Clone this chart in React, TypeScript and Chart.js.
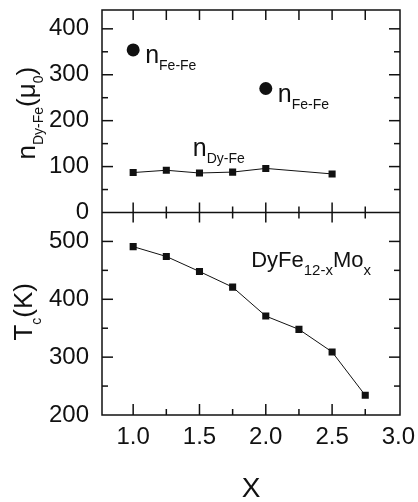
import React, { useEffect, useRef } from "react";
import { Chart, registerables } from "chart.js";

Chart.register(...registerables);

// ---------- data ----------
const nDyFeX = [1.0, 1.25, 1.5, 1.75, 2.0, 2.5];
const nDyFeY = [87, 92, 86, 88, 96, 84];
const nFeFeX = [1.0, 2.0];
const nFeFeY = [354, 270];
const tcX = [1.0, 1.25, 1.5, 1.75, 2.0, 2.25, 2.5, 2.75];
const tcY = [491, 474, 448, 421, 371, 348, 309, 234];
const xTicks = [1.0, 1.5, 2.0, 2.5, 3.0];
const nTicks = [0, 100, 200, 300, 400];
const tcTicks = [200, 300, 400, 500];

const FONT = '"Liberation Sans", Arial, sans-serif';
const INK = "#111";

type Part = [string, number, number];

function drawRich(ctx: CanvasRenderingContext2D, x: number, y: number, parts: Part[], center = false) {
  let total = 0;
  for (const p of parts) {
    ctx.font = `${p[1]}px ${FONT}`;
    total += ctx.measureText(p[0]).width;
  }
  let cx = center ? x - total / 2 : x;
  for (const p of parts) {
    ctx.font = `${p[1]}px ${FONT}`;
    ctx.fillText(p[0], cx, y + p[2]);
    cx += ctx.measureText(p[0]).width;
  }
}

const framePlugin = {
  id: "frameTicks",
  afterDraw(chart: any) {
    const { ctx, chartArea: a, scales } = chart;
    const sx = scales.x, sN = scales.yN, sT = scales.yT;
    const mid = sN.bottom;
    ctx.save();
    ctx.strokeStyle = INK;
    ctx.lineWidth = 1.5;
    const seg = (x1: number, y1: number, x2: number, y2: number) => {
      ctx.beginPath();
      ctx.moveTo(x1, y1);
      ctx.lineTo(x2, y2);
      ctx.stroke();
    };
    ctx.strokeRect(a.left, a.top, a.right - a.left, a.bottom - a.top);
    seg(a.left, mid, a.right, mid);

    const xMaj = sx.ticks.map((t: any) => t.value);
    const xMin = xMaj.slice(0, -1).map((v: number, i: number) => (v + xMaj[i + 1]) / 2);
    xMaj.forEach((v: number) => {
      const p = sx.getPixelForValue(v);
      if (p > a.right - 2) return;
      seg(p, a.bottom, p, a.bottom - 11);
      seg(p, mid - 10, p, mid + 10);
      seg(p, a.top, p, a.top + 10);
    });
    xMin.forEach((v: number) => {
      const p = sx.getPixelForValue(v);
      seg(p, a.bottom, p, a.bottom - 6);
      seg(p, mid - 6, p, mid + 6);
      seg(p, a.top, p, a.top + 10);
    });

    [sN, sT].forEach((s: any) => {
      const maj = s.ticks.map((t: any) => t.value);
      const step = maj[1] - maj[0];
      maj.forEach((v: number) => {
        const p = s.getPixelForValue(v);
        if (p >= s.bottom - 1 || p <= s.top + 1) return;
        seg(a.left, p, a.left + 11, p);
        seg(a.right, p, a.right - 11, p);
      });
      const minors = maj.slice(0, -1).map((v: number, i: number) => (v + maj[i + 1]) / 2);
      minors.push(maj[maj.length - 1] + step / 2);
      minors.forEach((v: number) => {
        if (v >= s.max) return;
        const p = s.getPixelForValue(v);
        if (p <= s.top + 1) return;
        seg(a.left, p, a.left + 6, p);
        seg(a.right, p, a.right - 6, p);
      });
    });
    ctx.restore();
  },
};

const textPlugin = {
  id: "richText",
  afterDraw(chart: any) {
    const { ctx, scales } = chart;
    const sx = scales.x, sN = scales.yN, sT = scales.yT;
    ctx.save();
    ctx.fillStyle = INK;
    ctx.textBaseline = "alphabetic";
    ctx.textAlign = "left";

    // point labels n_Fe-Fe
    nFeFeX.forEach((xv, i) => {
      const px = sx.getPixelForValue(xv) + 12;
      const py = sN.getPixelForValue(nFeFeY[i]) + 13;
      drawRich(ctx, px, py, [["n", 25, 0], ["Fe-Fe", 14, 7]]);
    });
    // n_Dy-Fe label
    drawRich(ctx, sx.getPixelForValue(1.45), sN.getPixelForValue(122), [["n", 25, 0], ["Dy-Fe", 14, 7]]);
    // compound label
    drawRich(ctx, sx.getPixelForValue(1.89), sT.getPixelForValue(456), [
      ["DyFe", 22, 0],
      ["12-x", 15, 8],
      ["Mo", 22, 0],
      ["x", 15, 8],
    ]);

    // rotated y titles
    const rot = (bx: number, cy: number, parts: Part[]) => {
      ctx.save();
      ctx.translate(bx, cy);
      ctx.rotate(-Math.PI / 2);
      drawRich(ctx, 0, 0, parts, true);
      ctx.restore();
    };
    rot(35, (sN.top + sN.bottom) / 2 + 2, [
      ["n", 26, 0],
      ["Dy-Fe", 14, 8],
      ["(", 26, 0],
      ["\u03bc", 26, 0],
      ["0", 14, 8],
      [")", 26, 0],
    ]);
    rot(32, (sT.top + sT.bottom) / 2 - 2, [
      ["T", 26, 0],
      ["c", 14, 9],
      ["(K)", 26, 0],
    ]);
    ctx.restore();
  },
};

export default function App() {
  const ref = useRef<HTMLCanvasElement | null>(null);

  useEffect(() => {
    if (!ref.current) return;
    const tickFont = { family: FONT, size: 24 };
    const yFit = (s: any) => {
      s.width = 102;
      s.paddingTop = 0;
      s.paddingBottom = 0;
      s.paddingLeft = 0;
      s.paddingRight = 0;
    };
    const chart = new Chart(ref.current, {
      type: "line",
      data: {
        datasets: [
          {
            label: "Tc",
            yAxisID: "yT",
            data: tcX.map((x, i) => ({ x, y: tcY[i] })),
            borderColor: INK,
            borderWidth: 1,
            pointStyle: "rect",
            pointRadius: 5,
            pointBackgroundColor: INK,
            pointBorderWidth: 0,
            tension: 0,
          },
          {
            label: "nDyFe",
            yAxisID: "yN",
            data: nDyFeX.map((x, i) => ({ x, y: nDyFeY[i] })),
            borderColor: INK,
            borderWidth: 1,
            pointStyle: "rect",
            pointRadius: 5,
            pointBackgroundColor: INK,
            pointBorderWidth: 0,
            tension: 0,
          },
          {
            label: "nFeFe",
            yAxisID: "yN",
            data: nFeFeX.map((x, i) => ({ x, y: nFeFeY[i] })),
            showLine: false,
            borderColor: INK,
            pointStyle: "circle",
            pointRadius: 6.5,
            pointBackgroundColor: INK,
            pointBorderWidth: 0,
          },
        ],
      },
      options: {
        responsive: false,
        animation: false,
        devicePixelRatio: 1,
        layout: { padding: { top: 10, right: 18, left: 0, bottom: 0 } },
        plugins: { legend: { display: false }, tooltip: { enabled: false } },
        scales: {
          x: {
            type: "linear",
            position: "bottom",
            min: 0.765,
            max: 3.012,
            afterBuildTicks: (s: any) => {
              s.ticks = xTicks.map((v) => ({ value: v }));
            },
            afterFit: (s: any) => {
              s.height = 87;
              s.paddingLeft = 0;
              s.paddingRight = 0;
            },
            grid: { display: false, drawTicks: false },
            border: { display: false },
            ticks: {
              padding: 8,
              font: tickFont,
              color: INK,
              autoSkip: false,
              maxRotation: 0,
              callback: (v: any) => Number(v).toFixed(1),
            },
            title: {
              display: true,
              text: "X",
              color: INK,
              font: { family: FONT, size: 28, lineHeight: 0.93 },
              padding: { top: 0, bottom: 0 },
            },
          },
          yT: {
            type: "linear",
            position: "left",
            stack: "panels",
            stackWeight: 1,
            min: 200,
            max: 550,
            afterBuildTicks: (s: any) => {
              s.ticks = tcTicks.map((v) => ({ value: v }));
            },
            afterFit: yFit,
            grid: { display: false, drawTicks: false },
            border: { display: false },
            ticks: { padding: 13, font: tickFont, color: INK, autoSkip: false, callback: (v: any) => String(v) },
          },
          yN: {
            type: "linear",
            position: "left",
            stack: "panels",
            stackWeight: 1,
            min: 0,
            max: 441,
            afterBuildTicks: (s: any) => {
              s.ticks = nTicks.map((v) => ({ value: v }));
            },
            afterFit: yFit,
            grid: { display: false, drawTicks: false },
            border: { display: false },
            ticks: { padding: 13, font: tickFont, color: INK, autoSkip: false, callback: (v: any) => String(v) },
          },
        },
      } as any,
      plugins: [framePlugin, textPlugin],
    });
    return () => chart.destroy();
  }, []);

  return (
    <div style={{ position: "fixed", left: 0, top: 0, width: 418, height: 502, background: "#fff" }}>
      <canvas ref={ref} width={418} height={502} style={{ display: "block" }} />
    </div>
  );
}
